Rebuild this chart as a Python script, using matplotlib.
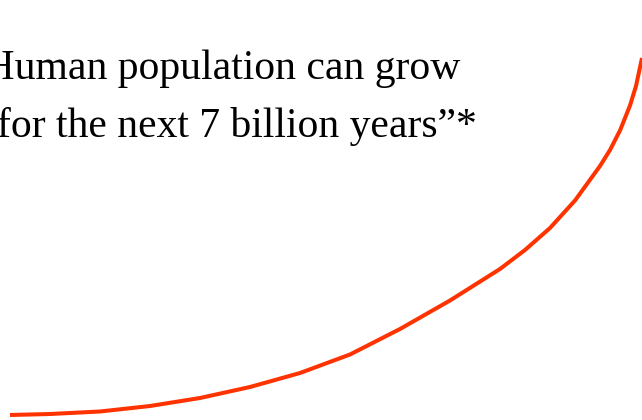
import matplotlib.pyplot as plt

# curve (pixel space: x to the right, y down from top)
curve_x = [10, 50, 100, 150, 200, 250, 300, 350, 400, 450, 500,
           525, 550, 575, 600, 610, 620, 630, 636, 642]
curve_y = [415, 414, 411.5, 406, 398, 387, 373, 354.5, 329, 300.5, 269,
           250, 228, 200.5, 166, 150, 130.5, 105.5, 86, 58]

line1 = "\u201cHuman population can grow"
line2 = "for the next 7 billion years\u201d*"

fig = plt.figure(figsize=(6.42, 4.20), dpi=100)
ax = fig.add_axes([0, 0, 1, 1])
ax.set_xlim(0, 642)
ax.set_ylim(420, 0)
ax.axis('off')

ax.plot(curve_x, curve_y, color='#ff3300', lw=2.9, solid_capstyle='butt',
        solid_joinstyle='round')

font = dict(family='Liberation Serif', fontsize=30, color='black')
ax.text(-34, 79, line1, ha='left', va='baseline', **font)
ax.text(-3, 137, line2, ha='left', va='baseline', **font)

plt.savefig('out.png', dpi=100)
